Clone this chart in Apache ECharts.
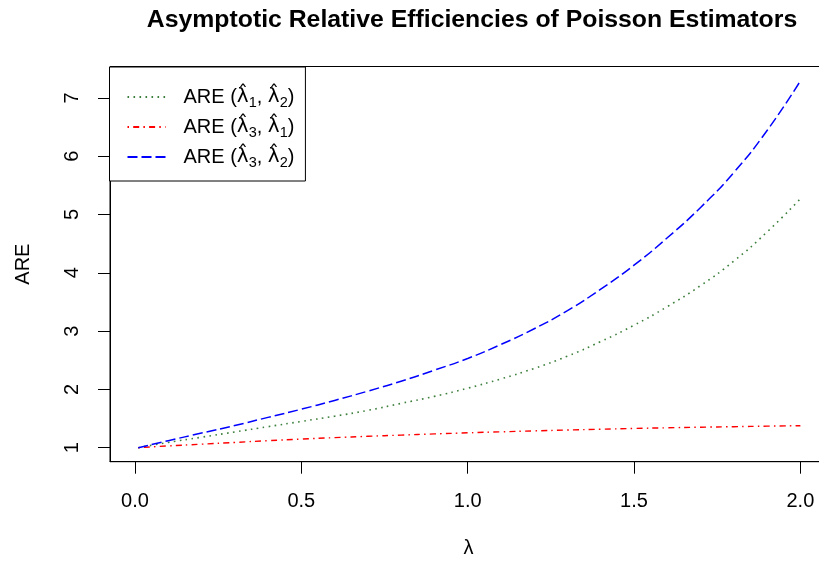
<!DOCTYPE html>
<html>
<head>
<meta charset="utf-8">
<script src="https://cdn.jsdelivr.net/npm/echarts@6/dist/echarts.min.js"></script>
<style>
html,body{margin:0;padding:0;background:#fff;}
#chart{width:819px;height:565px;}
</style>
</head>
<body>
<div id="chart"></div>
<script>
var lambdaVals = [0.01,0.1,0.2,0.3,0.4,0.5,0.6,0.7,0.8,0.9,1.0,1.1,1.2,1.3,1.4,1.5,1.6,1.7,1.8,1.9,2.0];
var are12 = [1.00,1.09,1.18,1.27,1.36,1.45,1.54,1.64,1.76,1.88,2.02,2.18,2.36,2.57,2.82,3.10,3.42,3.78,4.20,4.70,5.27];
var are31 = [1.00,1.03,1.06,1.09,1.12,1.148,1.172,1.195,1.216,1.236,1.255,1.272,1.288,1.303,1.317,1.330,1.341,1.351,1.360,1.369,1.377];
var are32 = [1.00,1.12,1.25,1.38,1.52,1.66,1.81,1.97,2.14,2.33,2.53,2.77,3.04,3.35,3.72,4.13,4.60,5.12,5.72,6.44,7.29];
var xTicks = [0, 0.5, 1, 1.5, 2];
var yTicks = [1, 2, 3, 4, 5, 6, 7];
var seriesNames = ['ARE12', 'ARE31', 'ARE32'];
var legendLabels = {
  ARE12: 'ARE ({l|\u03BB\u0302}{s|1}, {l|\u03BB\u0302}{s|2})',
  ARE31: 'ARE ({l|\u03BB\u0302}{s|3}, {l|\u03BB\u0302}{s|1})',
  ARE32: 'ARE ({l|\u03BB\u0302}{s|3}, {l|\u03BB\u0302}{s|2})'
};

function pairs(ys){ return lambdaVals.map(function(x,i){ return [x, ys[i]]; }); }

var FONT = 'Liberation Sans, Arial, Helvetica, sans-serif';
var FS = 20;
var chart = echarts.init(document.getElementById('chart'), null, {renderer:'canvas'});
chart.setOption({
  animation: false,
  backgroundColor: '#fff',
  title: {
    text: 'Asymptotic Relative Efficiencies of Poisson Estimators',
    left: 467, top: 3, textAlign: 'center',
    textStyle: {fontFamily: FONT, fontSize: 24.8, fontWeight: 'bold', color: '#000'}
  },
  grid: {left: 110, top: 66.5, width: 717, height: 395.2, show: true, borderColor: '#000', borderWidth: 1, backgroundColor: 'transparent', containLabel: false, outerBoundsMode: 'none'},
  legend: {
    left: 109.5, top: 67, orient: 'vertical',
    backgroundColor: '#fff', borderColor: '#000', borderWidth: 1, borderRadius: 0,
    padding: [17, 11, 11, 17],
    itemGap: 4, itemWidth: 38, itemHeight: 14,
    data: seriesNames,
    itemStyle: {opacity: 0, borderWidth: 0},
    formatter: function(n){ return legendLabels[n]; },
    textStyle: {
      fontFamily: FONT, fontSize: FS, color: '#000', padding: [0,0,0,13], lineHeight: 26,
      rich: {
        l: {fontFamily: 'DejaVu Sans', fontSize: 20, color: '#000', lineHeight: 26},
        s: {fontFamily: FONT, fontSize: 14.5, color: '#000', lineHeight: 26, verticalAlign: 'bottom'}
      }
    }
  },
  xAxis: {
    type: 'value', min: -0.075, max: 2.08,
    name: '\u03BB', nameLocation: 'middle', nameGap: 77,
    nameTextStyle: {fontFamily: FONT, fontSize: FS, color: '#000'},
    axisLine: {show: true, onZero: false, lineStyle: {color: '#000', width: 1}},
    axisTick: {show: true, length: 12, inside: false, customValues: xTicks, lineStyle: {color: '#000'}},
    axisLabel: {show: true, margin: 30, customValues: xTicks, fontFamily: FONT, fontSize: FS, color: '#000',
      formatter: function(v){ return v.toFixed(1); }},
    splitLine: {show: false}
  },
  yAxis: {
    type: 'value', min: 0.7596, max: 7.5375,
    name: 'ARE', nameLocation: 'middle', nameGap: 77, nameRotate: 90,
    nameTextStyle: {fontFamily: FONT, fontSize: FS, color: '#000'},
    axisLine: {show: true, onZero: false, lineStyle: {color: '#000', width: 1}},
    axisTick: {show: true, length: 12, inside: false, customValues: yTicks, lineStyle: {color: '#000'}},
    axisLabel: {show: true, margin: 28, rotate: 90, customValues: yTicks, fontFamily: FONT, fontSize: FS, color: '#000',
      formatter: function(v){ return String(Math.round(v)); }},
    splitLine: {show: false}
  },
  series: [
    {name: 'ARE12', type: 'line', data: pairs(are12), smooth: true, symbol: 'none', showSymbol: false,
      lineStyle: {color: '#3c7f3c', width: 1.6, type: [1.6, 4.4]}, itemStyle: {color: '#3c7f3c'}},
    {name: 'ARE31', type: 'line', data: pairs(are31), smooth: true, symbol: 'none', showSymbol: false,
      lineStyle: {color: '#ff0000', width: 1.4, type: [1.5, 4.2, 6, 4.2]}, itemStyle: {color: '#ff0000'}},
    {name: 'ARE32', type: 'line', data: pairs(are32), smooth: true, symbol: 'none', showSymbol: false,
      lineStyle: {color: '#0000ff', width: 1.5, type: [10, 4]}, itemStyle: {color: '#0000ff'}}
  ]
});
</script>
</body>
</html>
